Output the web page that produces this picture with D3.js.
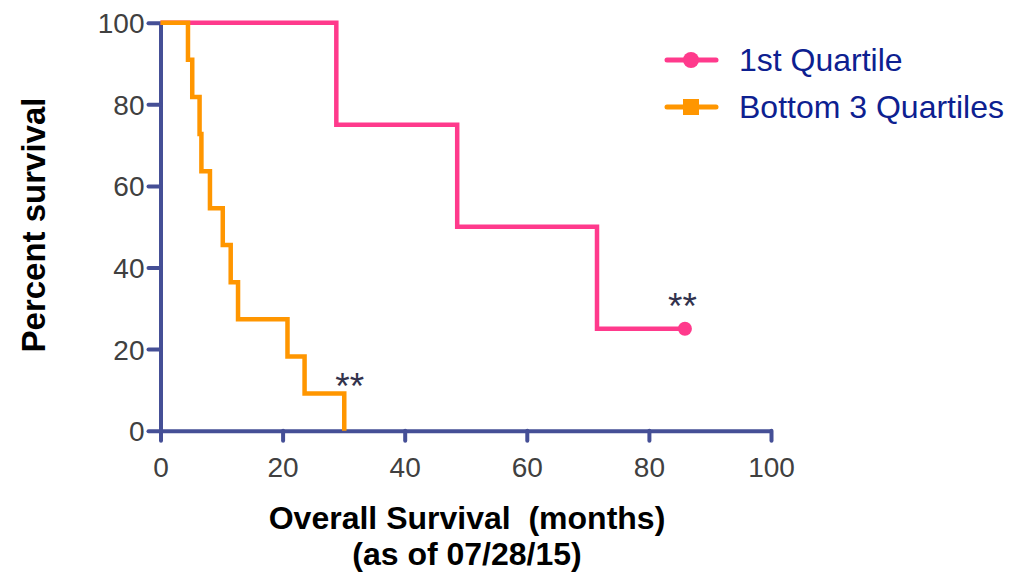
<!DOCTYPE html>
<html><head><meta charset="utf-8">
<script src="https://cdn.jsdelivr.net/npm/d3@7"></script>
<style>body{margin:0;background:#fff}</style>
</head><body>
<svg id="c" width="1029" height="574"></svg>
<script>
const xTicks = [0,20,40,60,80,100];
const yTicks = [0,20,40,60,80,100];
const seriesNames = ["1st Quartile","Bottom 3 Quartiles"];
const q1Times = [0, 28.8, 48.6, 71.5, 85.9];
const q1Surv  = [100, 75, 50, 25, 25];
const b3Times = [0, 4.5, 5.2, 6.4, 6.7, 8.1, 10.2, 11.5, 12.7, 20.8, 23.6, 30.1];
const b3Surv  = [100, 90.9, 81.8, 72.7, 63.6, 54.5, 45.5, 36.4, 27.3, 18.2, 9.1, 0];
const sigMarks = [{t:31.0, s:7.8, label:"**"}, {t:85.5, s:27.4, label:"**"}];

const axisColor = "#454f96", pink = "#ff3a8c", orange = "#ff9600";
const ff = "Liberation Sans, Arial, sans-serif";
const svg = d3.select("#c");
const x = d3.scaleLinear().domain([0,100]).range([160.5,771]);
const y = d3.scaleLinear().domain([0,100]).range([430.7,22.7]);

// axes
const gx = svg.append("g").attr("transform","translate(0,"+y(0)+")")
  .call(d3.axisBottom(x).tickValues(xTicks).tickSize(10).tickSizeOuter(0).tickPadding(16));
const gy = svg.append("g").attr("transform","translate("+x(0)+",0)")
  .call(d3.axisLeft(y).tickValues(yTicks).tickSize(12).tickSizeOuter(0).tickPadding(4));
[gx,gy].forEach(g=>{
  g.select(".domain").attr("stroke",axisColor).attr("stroke-width",4);
  g.selectAll(".tick line").attr("stroke",axisColor).attr("stroke-width",4).attr("stroke-linecap","round");
  g.selectAll(".tick text").attr("fill","#404040").attr("font-family",ff).attr("font-size",28);
});
gy.selectAll(".tick text").attr("dy","0.36em");
gx.selectAll(".tick text").attr("dy","0.71em");

const line = d3.line().x(d=>x(d[0])).y(d=>y(d[1])).curve(d3.curveStepAfter);
const q1 = q1Times.map((t,i)=>[t,q1Surv[i]]);
const b3 = b3Times.map((t,i)=>[t,b3Surv[i]]);
svg.append("path").attr("d",line(q1)).attr("fill","none").attr("stroke",pink).attr("stroke-width",4.5);
svg.append("path").attr("d",line(b3)).attr("fill","none").attr("stroke",orange).attr("stroke-width",4.5);
svg.append("circle").attr("cx",x(q1Times[q1Times.length-1])).attr("cy",y(q1Surv[q1Surv.length-1])).attr("r",7).attr("fill",pink);

sigMarks.forEach(m=>{
  svg.append("text").attr("x",x(m.t)).attr("y",y(m.s)).attr("text-anchor","middle")
    .attr("font-family",ff).attr("font-size",37).attr("fill","#33334d").text(m.label);
});

// titles
svg.append("text").attr("transform","translate(45,225) rotate(-90)").attr("text-anchor","middle")
  .attr("font-family",ff).attr("font-weight","bold").attr("font-size",33).attr("fill","#000").text("Percent survival");
svg.append("text").attr("x",467).attr("y",529).attr("text-anchor","middle")
  .attr("font-family",ff).attr("font-weight","bold").attr("font-size",32).attr("fill","#000").attr("xml:space","preserve").text("Overall Survival  (months)");
svg.append("text").attr("x",467).attr("y",565).attr("text-anchor","middle")
  .attr("font-family",ff).attr("font-weight","bold").attr("font-size",32).attr("fill","#000").text("(as of 07/28/15)");

// legend
const leg = svg.append("g");
const rows = [{c:pink,shape:"circle",y:60},{c:orange,shape:"square",y:107}];
rows.forEach((r,i)=>{
  leg.append("line").attr("x1",667).attr("x2",716).attr("y1",r.y).attr("y2",r.y).attr("stroke",r.c).attr("stroke-width",5).attr("stroke-linecap","round");
  if(r.shape==="circle") leg.append("circle").attr("cx",691).attr("cy",r.y).attr("r",8).attr("fill",r.c);
  else leg.append("rect").attr("x",683).attr("y",r.y-8).attr("width",16).attr("height",16).attr("fill",r.c);
  leg.append("text").attr("x",739).attr("y",r.y+11).attr("font-family",ff).attr("font-size",32).attr("fill","#0d2090").text(seriesNames[i]);
});
</script>
</body></html>
